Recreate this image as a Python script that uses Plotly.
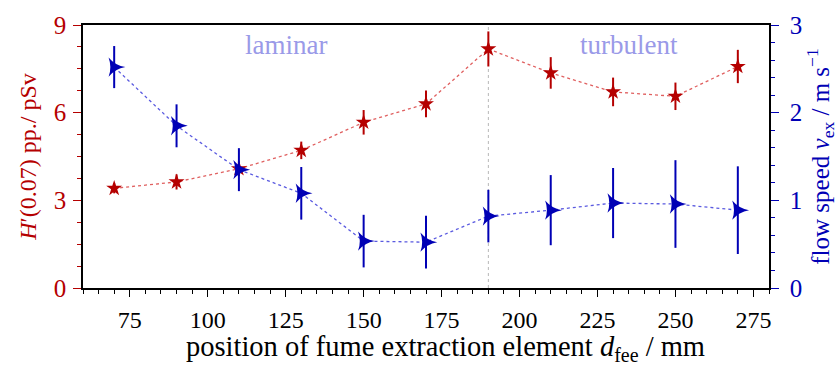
import plotly.graph_objects as go

pos = [70, 90, 110, 130, 150, 170, 190, 210, 230, 250, 270]
h_vals = [3.41, 3.63, 4.08, 4.71, 5.67, 6.30, 8.18, 7.36, 6.71, 6.56, 7.58]
h_err = [0.17, 0.26, 0.25, 0.30, 0.42, 0.46, 0.60, 0.54, 0.49, 0.47, 0.57]
v_vals = [2.52, 1.85, 1.35, 1.08, 0.535, 0.523, 0.82, 0.888, 0.969, 0.958, 0.888]
v_err = [0.24, 0.245, 0.245, 0.30, 0.30, 0.30, 0.30, 0.40, 0.40, 0.50, 0.50]
transition = 190

RED = "#b50000"
RED_LINE = "#e06060"
BLUE = "#0000b5"
BLUE_LINE = "#5a5ae0"
FONT = "Liberation Serif"

fig = go.Figure()
fig.add_trace(go.Scatter(
    x=pos, y=h_vals, mode="lines+markers",
    line=dict(color=RED_LINE, width=1.3, dash="dot"),
    marker=dict(symbol="star", size=12, color=RED),
    error_y=dict(type="data", array=h_err, color=RED, thickness=2, width=0),
    yaxis="y", showlegend=False))
fig.add_trace(go.Scatter(
    x=pos, y=v_vals, mode="lines+markers",
    line=dict(color=BLUE_LINE, width=1.3, dash="dot"),
    marker=dict(symbol="star-triangle-up", angle=90, size=14, color=BLUE),
    error_y=dict(type="data", array=v_err, color=BLUE, thickness=2, width=0),
    yaxis="y2", showlegend=False))

fig.add_shape(type="line", x0=transition, x1=transition, y0=0, y1=1, yref="paper",
              layer="below", line=dict(color="#b8b8b8", width=1, dash="dot"))

fig.add_annotation(x=125, y=1, yref="paper", yanchor="top", yshift=-3, text="laminar",
                   showarrow=False, font=dict(family=FONT, size=27, color="#9a9ae8"))
fig.add_annotation(x=235, y=1, yref="paper", yanchor="top", yshift=-3, text="turbulent",
                   showarrow=False, font=dict(family=FONT, size=27, color="#9a9ae8"))

# x-axis title as annotation (positioned like the reference)
fig.add_annotation(x=0.529, xref="paper", y=0, yref="paper", yanchor="middle", yshift=-60,
                   text="position of fume extraction element <i>d</i><sub>fee</sub> / mm",
                   showarrow=False, font=dict(family=FONT, size=28.5, color="black"))

fig.update_layout(
    width=840, height=367,
    margin=dict(l=83, r=68, t=19, b=79),
    plot_bgcolor="white", paper_bgcolor="white",
    font=dict(family=FONT, size=24, color="black"),
    xaxis=dict(range=[60, 280], dtick=25, tick0=0, showline=True, linecolor="black",
               linewidth=1.5, mirror=True, ticks="outside", ticklen=7, tickcolor="black",
               tickwidth=1.3, showgrid=False, zeroline=False, ticklabelstandoff=2,
               minor=dict(dtick=5, ticklen=4, tickcolor="black", ticks="outside", tickwidth=1),
               tickfont=dict(size=24)),
    yaxis=dict(range=[0, 9], dtick=3, showline=True, linecolor="black", linewidth=1.5,
               ticks="outside", ticklen=8, tickcolor=RED, tickwidth=1.3, showgrid=False,
               zeroline=False, tickfont=dict(color=RED, size=25), ticklabelstandoff=2,
               minor=dict(dtick=0.75, ticklen=4, tickcolor=RED, ticks="outside", tickwidth=1),
               title=dict(text="<i>H</i>′(0.07) pp./ pSv", font=dict(color=RED, size=24), standoff=10)),
    yaxis2=dict(range=[0, 3], dtick=1, overlaying="y", side="right", showline=True,
                linecolor="black", linewidth=1.5, ticks="outside", ticklen=8, tickcolor=BLUE,
                tickwidth=1.3, showgrid=False, zeroline=False, ticklabelstandoff=6,
                tickfont=dict(color=BLUE, size=25),
                minor=dict(dtick=0.2, ticklen=4, tickcolor=BLUE, ticks="outside", tickwidth=1),
                title=dict(text="flow speed <i>v</i><sub>ex</sub> / m s<sup>−1</sup>",
                           font=dict(color=BLUE, size=25), standoff=8)),
)

fig.write_html("out.html")
